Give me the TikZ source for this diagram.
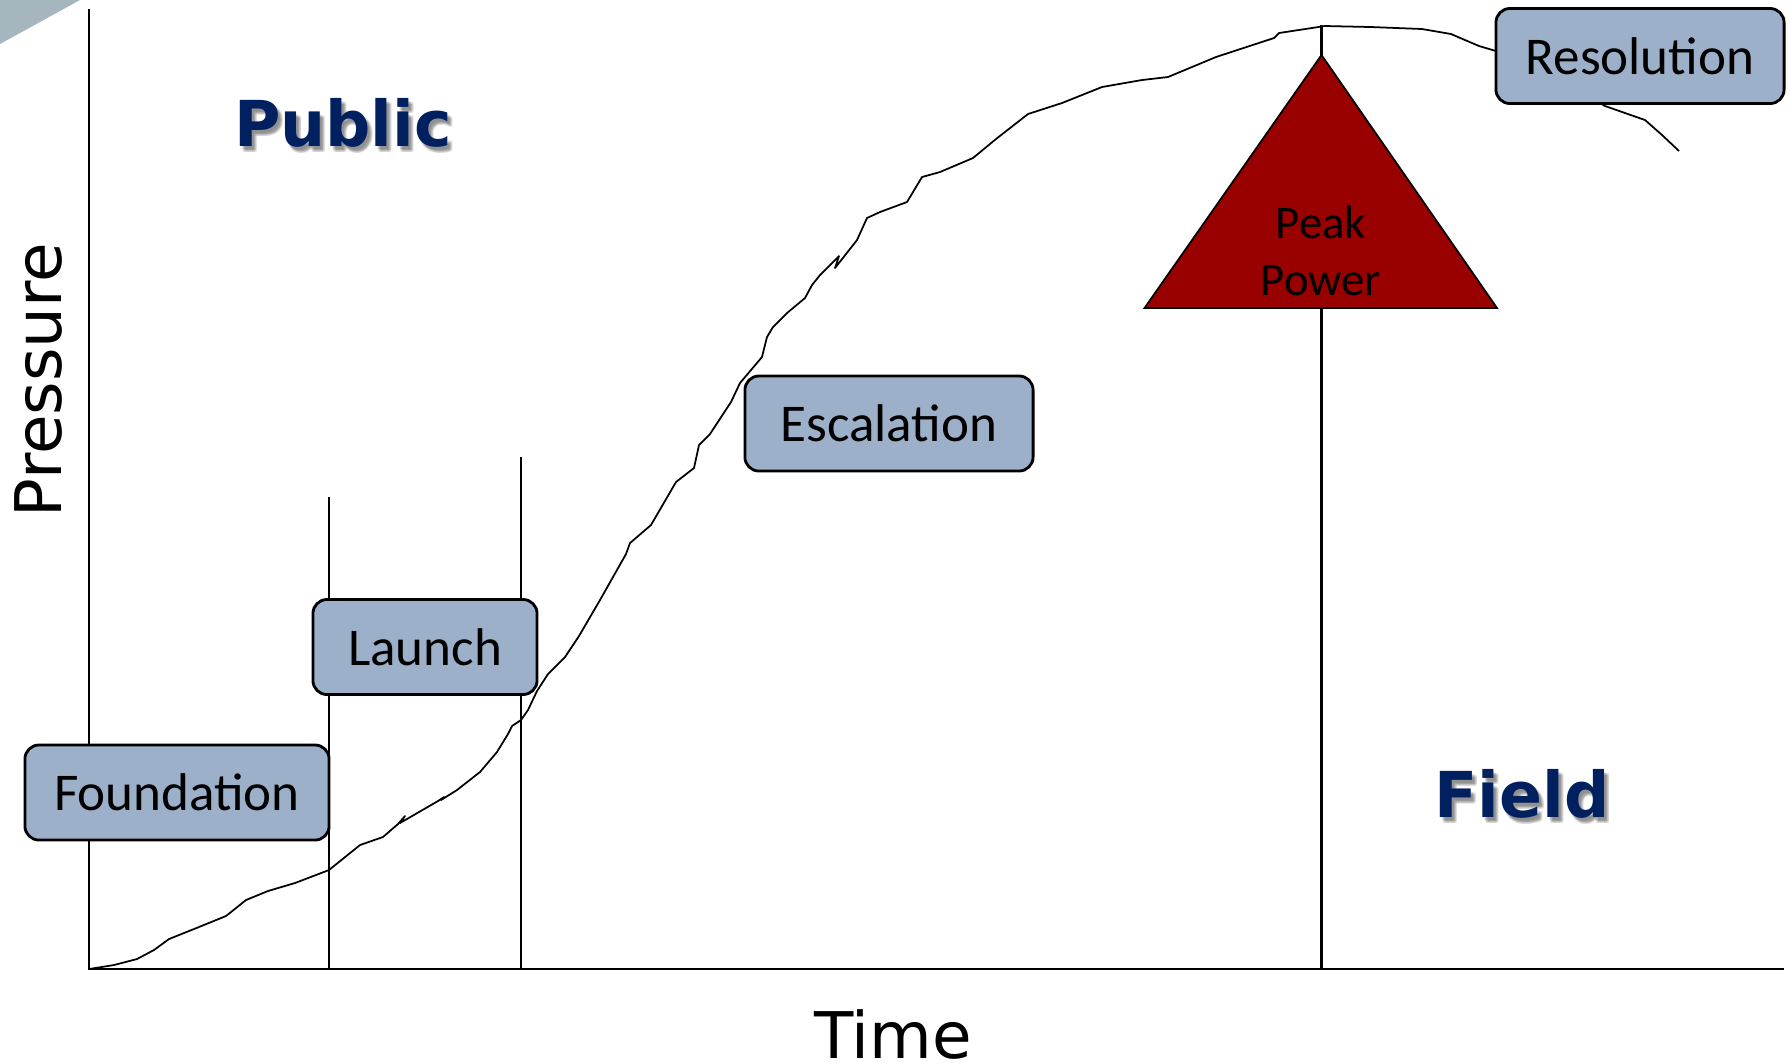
\documentclass[tikz,border=0pt]{standalone}
\usepackage{fontspec}
\newfontfamily\boxfont{Carlito}
\newfontfamily\axisfont{DejaVu Sans}
\definecolor{stagefill}{HTML}{9DB0CA}
\definecolor{peakred}{HTML}{990000}
\definecolor{navy}{HTML}{002060}
\definecolor{cornergray}{HTML}{A6B6BF}

\begin{document}
\begin{tikzpicture}[x=0.01cm,y=-0.01cm,
    stage/.style={draw=black,line width=0.8pt,fill=stagefill,rounded corners=0.14cm,
      minimum height=0.95cm,inner sep=0pt,font=\boxfont\fontsize{15.1}{18}\selectfont},
    zone/.style={inner sep=0pt,font=\axisfont\bfseries\fontsize{18}{21}\selectfont,text=navy},
    zoneshadow/.style={zone,text=black,opacity=0.09},
    axislabel/.style={inner sep=0pt,font=\axisfont\fontsize{18.3}{21}\selectfont}]
  \useasboundingbox (0,0) rectangle (1791,1062);
  \fill[cornergray] (0,0) -- (80,0) -- (0,44) -- cycle;

  % axes
  \coordinate (o) at (89,969);
  \coordinate (ytop) at (89,9);
  \coordinate (xend) at (1784,969);
  \draw[line width=0.6pt] (ytop) -- (o) -- (xend);

  % phase markers
  \coordinate (m1) at (329,497);
  \coordinate (m2) at (521,457);
  \coordinate (m3) at (1321.5,25);
  \foreach \m in {m1,m2,m3}
    \draw[line width=0.6pt] (\m) -- (\m |- o);

  % pressure over time
  \draw[line width=0.5pt,line join=round] (o) -- (114,965) -- (137,959) -- (154,950)
    -- (169,939) -- (194,929) -- (226,916) -- (246,900) -- (268,891) -- (295,883)
    -- (329,870) -- (360,845) -- (383,837) -- (398,824) -- (405,816) -- (400,823)
    -- (438,801) -- (444,797) -- (441,800) -- (457,790) -- (480,772) -- (497,752)
    -- (508,734) -- (512,726) -- (521,720) -- (528,710) -- (537,691) -- (548,674)
    -- (565,657) -- (579,636) -- (600,600) -- (626,554) -- (630,543) -- (651,525)
    -- (676,482) -- (694,468) -- (699,445) -- (710,434) -- (731,402) -- (740,383)
    -- (762,357) -- (767,337) -- (773,327) -- (787,313) -- (805,298) -- (812,285)
    -- (820,275) -- (839,256) -- (835,268) -- (857,240) -- (867,218) -- (880,212)
    -- (907,202) -- (922,177) -- (940,172) -- (973,158) -- (996,139) -- (1028,114)
    -- (1062,103) -- (1102,87) -- (1142,80) -- (1168,77) -- (1216,57) -- (1274,38)
    -- (1279,33) -- (1325,26) -- (1371,27) -- (1422,29) -- (1451,34) -- (1479,46)
    -- (1496,51) -- (1560,80) -- (1605,106) -- (1645,120) -- (1662,135) -- (1679,151);

  % peak
  \coordinate (apex) at (1321.5,55);
  \coordinate (baseR) at (1497,308);
  \coordinate (baseL) at (1144.5,308);
  \filldraw[fill=peakred,draw=black,line width=0.5pt] (apex) -- (baseR) -- (baseL) -- cycle;
  \node[align=center,font=\boxfont\fontsize{13.3}{16.2}\selectfont] (peak) at (1321,251) {Peak\\Power};

  % stages
  \node[stage,minimum width=3.04cm] (foundation) at (177,792.5) {Foundation};
  \node[stage,minimum width=2.24cm] (launch) at (425,647) {Launch};
  \node[stage,minimum width=2.88cm] (escalation) at (889,423.5) {Escalation};
  \node[stage,minimum width=2.88cm] (resolution) at (1640,56) {Resolution};

  % labels
  \node[axislabel,rotate=90] (pressure) at (38,380) {Pressure};
  \node[axislabel] (time) at (893,1034) {Time};
  % soft shadow under the zone names
  \foreach \dx/\dy in {2/3,3/4,4/5,5/6,3/6,5/4}{
    \node[zoneshadow] at (343+\dx,123+\dy) {Public};
    \node[zoneshadow] at (1522+\dx,794+\dy) {Field};
  }
  \node[zone] (public) at (343,123) {Public};
  \node[zone] (field) at (1522,794) {Field};
\end{tikzpicture}
\end{document}
